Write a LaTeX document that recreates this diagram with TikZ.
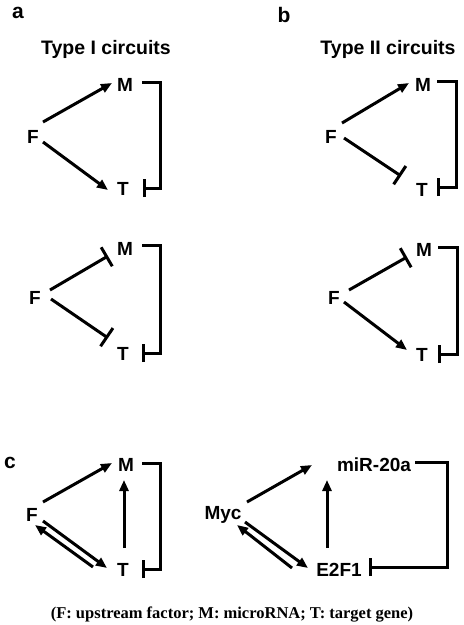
\documentclass[tikz,border=0pt]{standalone}
\usepackage{fontspec}
\setmainfont{Liberation Serif}
\setsansfont{Liberation Sans}
\usetikzlibrary{arrows.meta}

\begin{document}
\begin{tikzpicture}[x=1pt, y=-1pt, line width=3pt,
    gene/.style = {font=\sffamily\bfseries\fontsize{19}{22}\selectfont, inner sep=0pt, text depth=0pt},
    panel/.style = {font=\sffamily\bfseries\fontsize{21}{24}\selectfont, inner sep=0pt},
    heading/.style = {font=\sffamily\bfseries\fontsize{19.5}{22}\selectfont, inner sep=0pt, text depth=0pt},
    act/.style = {-{Triangle[length=11pt,width=9pt]}},
    inh/.style = {-{Bar[width=22pt]}},
    repress/.style = {-{Bar[width=18pt]}, line join=miter}]

    \useasboundingbox (0,0) rectangle (464,625);

    % Panel letters and headings
    \node[panel] (la) at (18,13) {a};
    \node[panel] (lb) at (284,15) {b};
    \node[panel] (lc) at (10,463) {c};
    \node[heading] (h1) at (106,47) {Type I circuits};
    \node[heading] (h2) at (388,47) {Type II circuits};

    % Type I, first circuit
    \node[gene] (aF) at (33,137) {F};
    \node[gene] (aM) at (125,85) {M};
    \node[gene] (aT) at (123,189) {T};
    \draw[act] ([shift={(10,-15)}]aF.center) -- ([shift={(-13,-2)}]aM.center);
    \draw[act] ([shift={(10,5)}]aF.center) -- ([shift={(-15,1)}]aT.center);
    \draw[repress] ([shift={(17,-3)}]aM.center) -- ++(18,0) |- ([shift={(20,-1)}]aT.center);

    % Type II, first circuit
    \node[gene] (bF) at (331,137) {F};
    \node[gene] (bM) at (423,85) {M};
    \node[gene] (bT) at (422,190) {T};
    \draw[act] ([shift={(11,-14)}]bF.center) -- ([shift={(-14,-2)}]bM.center);
    \draw[inh] ([shift={(13,1)}]bF.center) -- ([shift={(-21,-14)}]bT.center);
    \draw[repress] ([shift={(14,-4)}]bM.center) -- ++(19,0) |- ([shift={(15,-3)}]bT.center);

    % Type I, second circuit
    \node[gene] (cF) at (35,298) {F};
    \node[gene] (cM) at (125,249) {M};
    \node[gene] (cT) at (123,354) {T};
    \draw[inh] ([shift={(15,-8)}]cF.center) -- ([shift={(-17,7)}]cM.center);
    \draw[inh] ([shift={(16,1)}]cF.center) -- ([shift={(-15,-16)}]cT.center);
    \draw[repress] ([shift={(17,-4)}]cM.center) -- ++(18,0) |- ([shift={(19,-1)}]cT.center);

    % Type II, second circuit
    \node[gene] (dF) at (334,298) {F};
    \node[gene] (dM) at (424,250) {M};
    \node[gene] (dT) at (422,355) {T};
    \draw[inh] ([shift={(15,-8)}]dF.center) -- ([shift={(-17,7)}]dM.center);
    \draw[act] ([shift={(10,4)}]dF.center) -- ([shift={(-15,-5)}]dT.center);
    \draw[repress] ([shift={(14,-3)}]dM.center) -- ++(19,0) |- ([shift={(16,-1)}]dT.center);

    % Feedback circuit
    \node[gene] (eF) at (32,515) {F};
    \node[gene] (eM) at (126,465) {M};
    \node[gene] (eT) at (123,570) {T};
    \draw[act] ([shift={(11,-13)}]eF.center) -- ([shift={(-14,-2)}]eM.center);
    \draw[act] ([shift={(1,-22)}]eT.center) -- ([shift={(-2,15)}]eM.center);
    \draw[act] ([shift={(11,6)}]eF.center) -- ([shift={(-16,-2)}]eT.center);
    \draw[act] ([shift={(-30,-3)}]eT.center) -- ([shift={(3,10)}]eF.center);
    \draw[repress] ([shift={(16,-2)}]eM.center) -- ++(18,0) |- ([shift={(19,-1)}]eT.center);

    % Myc / miR-20a / E2F1
    \node[gene] (myc) at (223,513) {Myc};
    \node[gene] (mir) at (374,465) {miR-20a};
    \node[gene] (e2f) at (339,570) {E2F1};
    \draw[act] ([shift={(24,-11)}]myc.center) -- ([shift={(-62,0)}]mir.center);
    \draw[act] ([shift={(-12,-22)}]e2f.center) -- ([shift={(-47,15)}]mir.center);
    \draw[act] ([shift={(22,9)}]myc.center) -- ([shift={(-31,-2)}]e2f.center);
    \draw[act] ([shift={(-47,-2)}]e2f.center) -- ([shift={(14,12)}]myc.center);
    \draw[repress] ([shift={(41,-3)}]mir.center) -- ++(32,0) |- ([shift={(30,-3)}]e2f.center);

    % Legend
    \node[font=\rmfamily\bfseries\fontsize{16.5}{18}\selectfont, inner sep=0pt, anchor=base] (key) at (232,618)
        {(F: upstream factor; M: microRNA; T: target gene)};
\end{tikzpicture}
\end{document}
